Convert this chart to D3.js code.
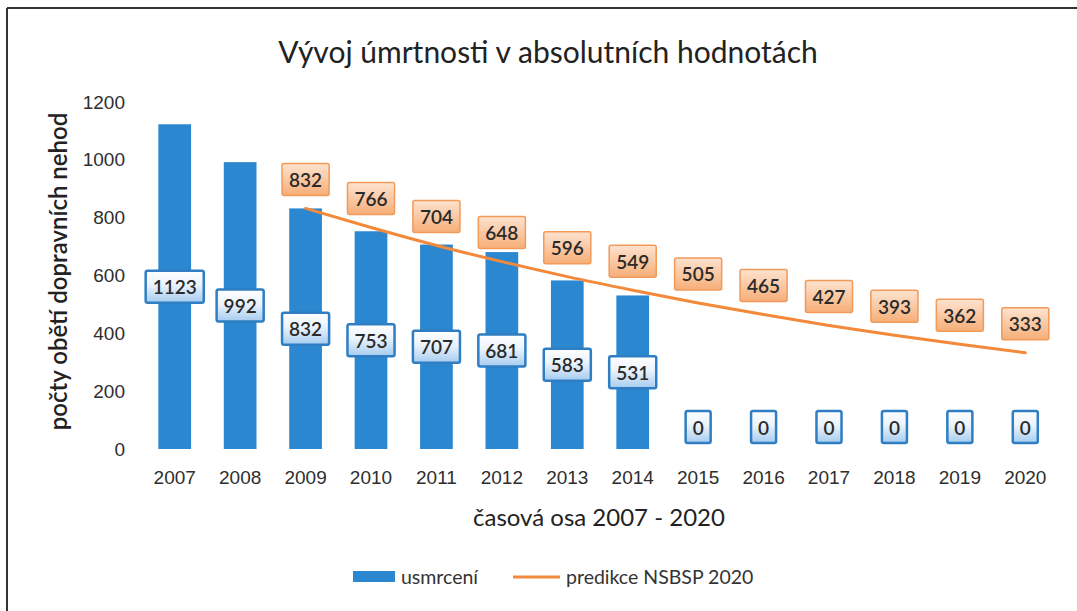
<!DOCTYPE html>
<html>

<head>
    <meta charset="utf-8">
    <style>
        body {
            margin: 0;
            background: #fff;
            font-family: Lato, 'Open Sans', sans-serif;
        }

        svg {
            display: block;
        }

        .tick text {
            font-size: 19px;
            fill: #2e2e2e;
        }

        .domain {
            display: none;
        }

        .tick line {
            display: none;
        }

        .title {
            font-size: 30px;
            fill: #222;
        }

        .axis-label {
            font-size: 24px;
            fill: #222;
        }

        .data-label {
            font-size: 19px;
            font-weight: 600;
            fill: #2a2a2a;
        }

        .legend text {
            font-size: 19.5px;
            fill: #333;
        }
    </style>
</head>

<body>
    <svg width="1077" height="611"></svg>

    <script src="https://d3js.org/d3.v7.min.js"></script>

    <script>
        // chart values
        let years = ["2007", "2008", "2009", "2010", "2011", "2012", "2013",
            "2014", "2015", "2016", "2017", "2018", "2019", "2020"]

        let deaths = [1123, 992, 832, 753, 707, 681, 583, 531, 0, 0, 0, 0, 0, 0]

        let prediction = [null, null, 832, 766, 704, 648, 596, 549, 505, 465, 427, 393, 362, 333]

        let yTicks = [0, 200, 400, 600, 800, 1000, 1200]

        let svg = d3.select("svg")

        let margin = { top: 102, right: 19, bottom: 162, left: 142 }
        let width = 1077
        let height = 611

        // frame (left + top line of the scanned page)
        svg.append("line")
            .attr("x1", 7).attr("x2", 7)
            .attr("y1", 8).attr("y2", height)
            .attr("stroke", "#333").attr("stroke-width", 2)
        svg.append("line")
            .attr("x1", 7).attr("x2", width)
            .attr("y1", 8).attr("y2", 8)
            .attr("stroke", "#333").attr("stroke-width", 2)

        let x = d3.scaleBand()
            .domain(years)
            .range([margin.left, width - margin.right])
            .paddingInner(0.5)
            .paddingOuter(0.25)

        let y = d3.scaleLinear()
            .domain([0, 1200])
            .range([height - margin.bottom, margin.top])

        // gradients for the label boxes
        let defs = svg.append("defs")
        let gBlue = defs.append("linearGradient")
            .attr("id", "gBlue").attr("x1", 0).attr("x2", 0).attr("y1", 0).attr("y2", 1)
        gBlue.append("stop").attr("offset", "0%").attr("stop-color", "#ffffff")
        gBlue.append("stop").attr("offset", "45%").attr("stop-color", "#eaf3fc")
        gBlue.append("stop").attr("offset", "100%").attr("stop-color", "#a5cbef")

        let gOrange = defs.append("linearGradient")
            .attr("id", "gOrange").attr("x1", 0).attr("x2", 0).attr("y1", 0).attr("y2", 1)
        gOrange.append("stop").attr("offset", "0%").attr("stop-color", "#fde3cf")
        gOrange.append("stop").attr("offset", "100%").attr("stop-color", "#f6ae78")

        // axes
        svg.append("g")
            .attr("class", "y axis")
            .attr("transform", `translate(${margin.left - 17},0)`)
            .call(d3.axisLeft(y).tickValues(yTicks).tickSize(0).tickPadding(0).tickFormat(d3.format("d")))

        svg.append("g")
            .attr("class", "x axis")
            .attr("transform", `translate(0,${y(0)})`)
            .call(d3.axisBottom(x).tickSize(0).tickPadding(22))

        // bars
        svg.append("g")
            .selectAll("rect")
            .data(years)
            .join("rect")
            .attr("x", d => x(d))
            .attr("width", x.bandwidth())
            .attr("y", (d, i) => y(deaths[i]))
            .attr("height", (d, i) => y(0) - y(deaths[i]))
            .attr("fill", "#2b87cf")

        // prediction line
        let line = d3.line()
            .defined(d => d.v != null)
            .x(d => x(d.year) + x.bandwidth() / 2)
            .y(d => y(d.v))
            .curve(d3.curveMonotoneX)

        let predData = years.map((yr, i) => ({ year: yr, v: prediction[i] }))

        svg.append("path")
            .datum(predData)
            .attr("fill", "none")
            .attr("stroke", "#f3893b")
            .attr("stroke-width", 3)
            .attr("stroke-linecap", "round")
            .attr("d", line)

        function set_label(text, cx, cy, fill, stroke, strokeWidth) {
            let g = svg.append("g")
            let rect = g.append("rect")
            let t = g.append("text")
                .attr("class", "data-label")
                .attr("x", cx)
                .attr("y", cy)
                .attr("text-anchor", "middle")
                .attr("dominant-baseline", "central")
                .text(text)
            let w = t.node().getComputedTextLength() + 14
            let h = 32
            rect.attr("x", cx - w / 2)
                .attr("y", cy - h / 2)
                .attr("width", w)
                .attr("height", h)
                .attr("rx", 2)
                .attr("fill", fill)
                .attr("stroke", stroke)
                .attr("stroke-width", strokeWidth)
        }

        // blue labels - centered in bar, zeros sit just above the axis
        deaths.forEach((v, i) => {
            let cx = x(years[i]) + x.bandwidth() / 2
            let cy = v > 0 ? (y(v) + y(0)) / 2 : y(0) - 22
            set_label(v, cx, cy, "url(#gBlue)", "#2f7ec4", 2.5)
        })

        // orange labels - above the line
        prediction.forEach((v, i) => {
            if (v == null) return
            let cx = x(years[i]) + x.bandwidth() / 2
            set_label(v, cx, y(v) - 29, "url(#gOrange)", "#f19a5a", 1.5)
        })

        // titles
        svg.append("text")
            .attr("class", "title")
            .attr("x", 548)
            .attr("y", 63)
            .attr("text-anchor", "middle")
            .text("Vývoj úmrtnosti v absolutních hodnotách")

        svg.append("text")
            .attr("class", "axis-label")
            .attr("x", 599)
            .attr("y", 526)
            .attr("text-anchor", "middle")
            .text("časová osa 2007 - 2020")

        svg.append("text")
            .attr("class", "axis-label")
            .attr("transform", `translate(67,${(y(0) + y(1200)) / 2 - 4}) rotate(-90)`)
            .attr("text-anchor", "middle")
            .style("font-weight", 600)
            .text("počty obětí dopravních nehod")

        // legend
        let legend = svg.append("g").attr("class", "legend")
        legend.append("rect")
            .attr("x", 353).attr("y", 571)
            .attr("width", 42).attr("height", 11)
            .attr("fill", "#2b87cf")
        legend.append("text")
            .attr("x", 401).attr("y", 584)
            .text("usmrcení")
        legend.append("line")
            .attr("x1", 513).attr("x2", 560)
            .attr("y1", 577).attr("y2", 577)
            .attr("stroke", "#f3893b").attr("stroke-width", 3)
        legend.append("text")
            .attr("x", 566).attr("y", 584)
            .text("predikce NSBSP 2020")
    </script>
</body>

</html>
